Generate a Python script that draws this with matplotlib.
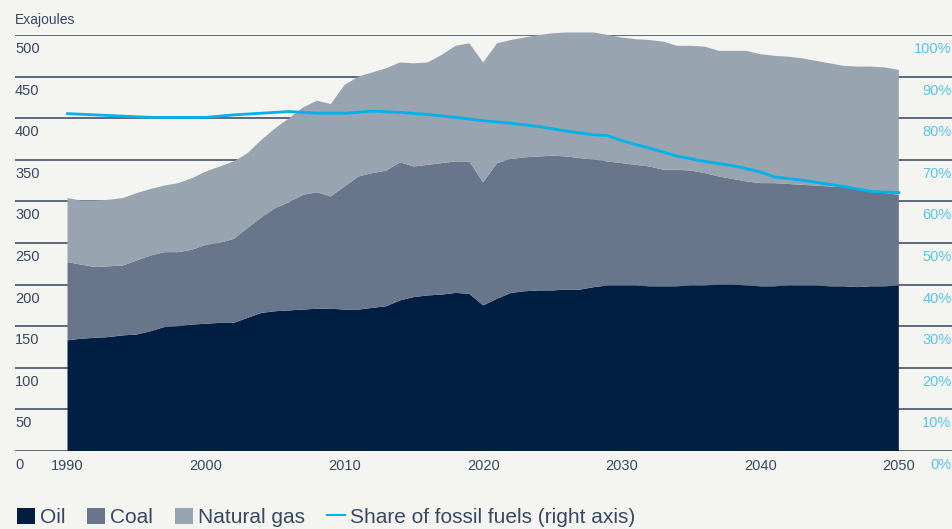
import matplotlib
matplotlib.use("Agg")
import matplotlib.pyplot as plt
from matplotlib.patches import Patch
from matplotlib.lines import Line2D

# Energy by fossil fuel, exajoules
years = list(range(1990, 2051))
oil = [133, 135, 136, 137, 139, 140, 144, 149, 150, 152,
       153, 154, 154, 160, 166, 168, 169, 170, 171, 171,
       170, 170, 172, 174, 181, 185, 187, 188, 190, 189,
       175, 183, 190, 192, 193, 193, 194, 194, 197, 199,
       199, 199, 198, 198, 198, 199, 199, 200, 200, 199,
       198, 198, 199, 199, 199, 198, 198, 197, 198, 198,
       199]
coal = [94, 89, 85, 85, 84, 89, 91, 90, 89, 90,
        95, 96, 101, 108, 115, 124, 130, 138, 140, 135,
        148, 160, 162, 163, 166, 157, 157, 158, 158, 159,
        148, 163, 161, 161, 161, 162, 160, 158, 153, 149,
        147, 145, 144, 140, 140, 138, 135, 130, 127, 125,
        124, 124, 122, 121, 120, 120, 119, 118, 114, 112,
        109]
gas = [77, 77, 80, 80, 81, 81, 80, 80, 83, 86,
       88, 92, 93, 90, 93, 96, 101, 105, 110, 111,
       122, 120, 121, 123, 120, 124, 123, 130, 139, 142,
       144, 144, 143, 144, 146, 147, 149, 151, 153, 152,
       151, 151, 152, 154, 149, 150, 152, 151, 154, 157,
       155, 153, 153, 152, 150, 148, 146, 147, 150, 151,
       150]

# Share of fossil fuels in the energy mix, percent (right axis)
share_years = [1990, 1992, 1994, 1996, 1998, 2000, 2002, 2004, 2006, 2008,
               2010, 2012, 2014, 2016, 2018, 2020, 2022, 2024, 2026, 2028,
               2029, 2030, 2032, 2034, 2036, 2038, 2040, 2041, 2043, 2046,
               2048, 2050]
share = [81.1, 80.8, 80.5, 80.2, 80.2, 80.2, 80.8, 81.2, 81.6, 81.2,
         81.2, 81.7, 81.4, 80.9, 80.2, 79.4, 78.8, 78.0, 76.9, 76.0,
         75.8, 74.6, 72.8, 70.9, 69.6, 68.6, 67.1, 65.9, 65.1, 63.6,
         62.4, 62.1]

labels = ["Oil", "Coal", "Natural gas"]
colors = ["#001e41", "#67768b", "#99a4b1"]
line_color = "#00b2ec"
bg = "#f4f4f0"
text_color = "#3a4864"
pct_color = "#55c4ee"

plt.rcParams["font.family"] = ["Liberation Sans", "DejaVu Sans"]

fig = plt.figure(figsize=(9.53, 5.29), dpi=100, facecolor=bg)
ax = fig.add_axes([15 / 953, 78 / 529, 938 / 953, 416 / 529])
ax.set_facecolor(bg)

polys = ax.stackplot(years, oil, coal, gas, colors=colors, linewidth=0, zorder=2)
for p in polys:
    p.set_clip_on(False)

ax.set_xlim(1986.21, 2053.91)
ax.set_ylim(0, 500)
ax.set_yticks(range(0, 501, 50))
ax.yaxis.grid(True, color="#34425e", linewidth=1.1)
ax.set_axisbelow(True)
ax.tick_params(axis="y", length=0, labelleft=False)
ax.set_xticks(range(1990, 2051, 10))
ax.tick_params(axis="x", length=0, pad=6, labelsize=10.5, labelcolor=text_color)
for s in ax.spines.values():
    s.set_visible(False)

for v in range(0, 501, 50):
    ax.annotate(str(v), xy=(0, v), xycoords=("axes fraction", "data"),
                xytext=(0, -5), textcoords="offset points",
                ha="left", va="top", fontsize=10.5, color=text_color)

ax.annotate("Exajoules", xy=(0, 500), xycoords=("axes fraction", "data"),
            xytext=(0, 6), textcoords="offset points",
            ha="left", va="bottom", fontsize=10, color=text_color)

ax2 = ax.twinx()
ax2.plot(share_years, share, color=line_color, linewidth=2, zorder=3)
ax2.set_ylim(0, 100)
ax2.set_yticks([])
for s in ax2.spines.values():
    s.set_visible(False)

for v in range(0, 101, 10):
    ax2.annotate(f"{v}%", xy=(1, v), xycoords=("axes fraction", "data"),
                 xytext=(-1, -5), textcoords="offset points",
                 ha="right", va="top", fontsize=10.5, color=pct_color)

handles = [Patch(facecolor=c, edgecolor="none") for c in colors]
handles.append(Line2D([0], [0], color=line_color, linewidth=1.5))
fig.legend(handles, labels + ["Share of fossil fuels (right axis)"],
           loc="lower left", bbox_to_anchor=(15 / 953, 0.0), ncol=4,
           frameon=False, fontsize=15, labelcolor=text_color,
           borderpad=0.1, borderaxespad=0,
           handlelength=0.85, handleheight=0.8, handletextpad=0.25,
           columnspacing=1.05)

fig.savefig("out.png", dpi=100, facecolor=bg)
